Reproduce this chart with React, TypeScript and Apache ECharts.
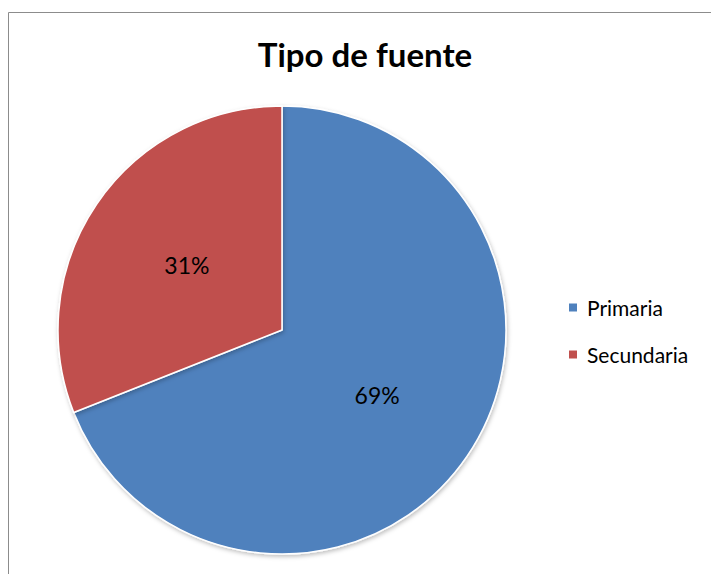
import React, { useEffect, useRef } from "react";
import * as echarts from "echarts";

const titleText = "Tipo de fuente";
const categories = ["Primaria", "Secundaria"];
const values = [69, 31];
const colors = ["#4F81BD", "#C0504D"];

export default function App() {
  const ref = useRef<HTMLDivElement>(null);
  useEffect(() => {
    if (!ref.current) return;
    const chart = echarts.init(ref.current, null, { renderer: "svg" });
    const font = "Lato, 'Open Sans', sans-serif";
    chart.setOption({
      animation: false,
      backgroundColor: "#ffffff",
      graphic: [
        {
          type: "rect",
          shape: { x: 8.5, y: 12.5, width: 800, height: 700 },
          style: { fill: "#ffffff", stroke: "#8c8c8c", lineWidth: 1 },
          z: -10,
        },
        {
          type: "text",
          x: 365,
          y: 54,
          style: {
            text: titleText,
            textAlign: "center",
            textVerticalAlign: "middle",
            fontFamily: font,
            fontWeight: "bold",
            fontSize: 33,
            fill: "#000000",
          },
        },
      ],
      legend: {
        orient: "vertical",
        left: 567,
        top: 297,
        padding: 0,
        itemWidth: 10,
        itemHeight: 10,
        itemGap: 26,
        icon: "rect",
        textStyle: {
          fontFamily: font,
          fontSize: 21,
          lineHeight: 21,
          color: "#000000",
          padding: [0, 0, 0, 4],
        },
        data: categories,
      },
      series: [
        {
          type: "pie",
          center: [282, 330],
          radius: 224,
          startAngle: 90,
          clockwise: true,
          avoidLabelOverlap: false,
          itemStyle: {
            borderColor: "#ffffff",
            borderWidth: 1.5,
            shadowBlur: 4,
            shadowOffsetX: 1,
            shadowOffsetY: 2,
            shadowColor: "rgba(0,0,0,0.25)",
          },
          label: {
            show: true,
            position: "inside",
            formatter: (p: any) => Math.round(p.percent) + "%",
            fontFamily: font,
            fontSize: 23,
            color: "#000000",
          },
          labelLine: { show: false },
          emphasis: { disabled: true },
          data: categories.map((name, i) => ({
            name,
            value: values[i],
            itemStyle: { color: colors[i] },
          })),
        },
      ],
    });
    return () => chart.dispose();
  }, []);
  return (
    <div
      ref={ref}
      style={{ position: "fixed", left: 0, top: 0, width: 711, height: 574 }}
    />
  );
}
